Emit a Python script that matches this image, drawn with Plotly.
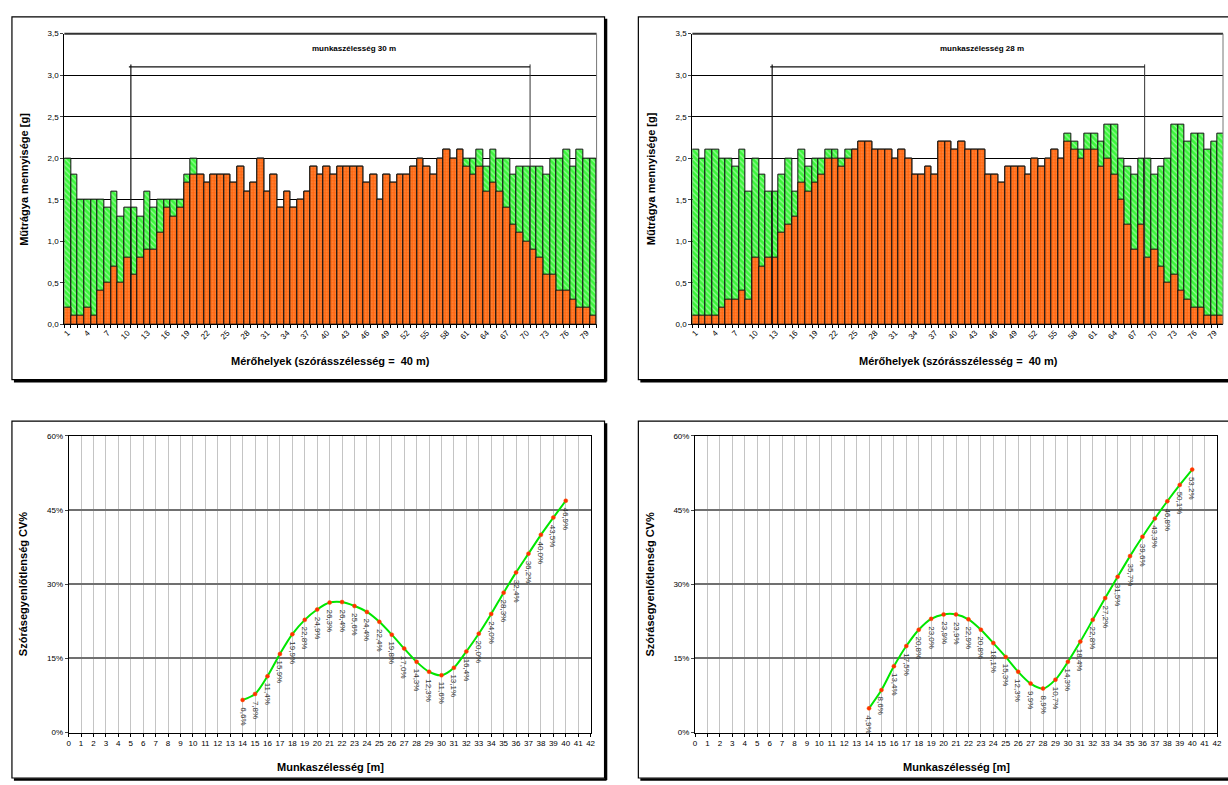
import plotly.graph_objects as go

# ---------------- data ----------------
positions = list(range(1, 81))
top_ticks = list(range(1, 80, 3))
top_tick_labels = [str(v) for v in top_ticks]

orange_30 = [0.2, 0.1, 0.1, 0.2, 0.1, 0.4, 0.5, 0.7, 0.5, 0.8,
             0.6, 0.8, 0.9, 0.9, 1.1, 1.4, 1.3, 1.4, 1.7, 1.8,
             1.8, 1.7, 1.8, 1.8, 1.8, 1.7, 1.9, 1.6, 1.7, 2.0,
             1.6, 1.8, 1.4, 1.6, 1.4, 1.5, 1.6, 1.9, 1.8, 1.9,
             1.8, 1.9, 1.9, 1.9, 1.9, 1.7, 1.8, 1.5, 1.8, 1.7,
             1.8, 1.8, 1.9, 2.0, 1.9, 1.8, 2.0, 2.1, 2.0, 2.1,
             1.9, 1.8, 1.9, 1.6, 1.7, 1.6, 1.4, 1.2, 1.1, 1.0,
             0.9, 0.8, 0.6, 0.6, 0.4, 0.4, 0.3, 0.2, 0.2, 0.1]
green_30 = [2.0, 1.8, 1.5, 1.5, 1.5, 1.5, 1.4, 1.6, 1.3, 1.4,
            1.4, 1.3, 1.6, 1.4, 1.5, 1.5, 1.5, 1.5, 1.8, 2.0,
            1.8, 1.7, 1.8, 1.8, 1.8, 1.7, 1.9, 1.6, 1.7, 2.0,
            1.6, 1.8, 1.4, 1.6, 1.4, 1.5, 1.6, 1.9, 1.8, 1.9,
            1.8, 1.9, 1.9, 1.9, 1.9, 1.7, 1.8, 1.5, 1.8, 1.7,
            1.8, 1.8, 1.9, 2.0, 1.9, 1.8, 2.0, 2.1, 2.0, 2.1,
            2.0, 2.0, 2.1, 1.9, 2.1, 2.0, 2.0, 1.8, 1.9, 1.9,
            1.9, 1.9, 1.8, 2.0, 2.0, 2.1, 1.9, 2.1, 2.0, 2.0]
orange_28 = [0.1, 0.1, 0.1, 0.1, 0.2, 0.3, 0.3, 0.4, 0.3, 0.8,
             0.7, 0.8, 0.8, 1.1, 1.2, 1.3, 1.7, 1.6, 1.7, 1.8,
             2.0, 2.0, 1.9, 2.0, 2.1, 2.2, 2.2, 2.1, 2.1, 2.1,
             2.0, 2.1, 2.0, 1.8, 1.8, 1.9, 1.8, 2.2, 2.2, 2.1,
             2.2, 2.1, 2.1, 2.1, 1.8, 1.8, 1.7, 1.9, 1.9, 1.9,
             1.8, 2.0, 1.9, 2.0, 2.1, 2.0, 2.2, 2.1, 2.0, 2.1,
             2.1, 1.9, 2.0, 1.8, 1.5, 1.2, 0.9, 1.2, 0.8, 0.9,
             0.7, 0.5, 0.6, 0.4, 0.3, 0.2, 0.2, 0.1, 0.1, 0.1]
green_28 = [2.1, 2.0, 2.1, 2.1, 2.0, 2.0, 1.9, 2.1, 1.6, 2.0,
            1.8, 1.6, 1.6, 1.8, 2.0, 1.6, 2.1, 1.9, 2.0, 2.0,
            2.1, 2.1, 2.0, 2.1, 2.1, 2.2, 2.2, 2.1, 2.1, 2.1,
            2.0, 2.1, 2.0, 1.8, 1.8, 1.9, 1.8, 2.2, 2.2, 2.1,
            2.2, 2.1, 2.1, 2.1, 1.8, 1.8, 1.7, 1.9, 1.9, 1.9,
            1.8, 2.0, 1.9, 2.0, 2.1, 2.0, 2.3, 2.2, 2.1, 2.3,
            2.3, 2.2, 2.4, 2.4, 2.0, 1.9, 1.8, 2.0, 2.0, 1.8,
            1.9, 2.0, 2.4, 2.4, 2.2, 2.3, 2.3, 2.1, 2.2, 2.3]

bracket_30 = [10.5, 70.5]
bracket_28 = [12.5, 68.5]
bracket_level = 3.1
title_30 = "munkaszélesség 30 m"
title_28 = "munkaszélesség 28 m"

widths = list(range(14, 41))
cv_30 = [6.6, 7.8, 11.4, 15.9, 19.9, 22.8, 24.9, 26.3, 26.4, 25.6, 24.4, 22.4, 19.8,
         17.0, 14.3, 12.3, 11.6, 13.1, 16.4, 20.0, 24.0, 28.3, 32.4, 36.2, 40.0, 43.5, 46.9]
cv_28 = [4.9, 8.6, 13.4, 17.5, 20.8, 23.0, 23.9, 23.9, 22.9, 20.8, 18.1, 15.3, 12.3,
         9.9, 8.9, 10.7, 14.3, 18.4, 22.8, 27.2, 31.5, 35.7, 39.6, 43.3, 46.8, 50.1, 53.2]

# ---------------- layout helpers ----------------
W, H = 1228, 785
FONT = "Liberation Sans, Arial, sans-serif"


def px_x(p):
    return p / W


def px_y(p):
    return 1 - p / H


fig = go.Figure()

# ---------------- top bar charts ----------------
green_marker = dict(color="#3cf53c", line=dict(color="#111", width=1),
                    pattern=dict(shape="\\", fgcolor="#f0fff0", size=4, solidity=0.3,
                                 fillmode="overlay"))
orange_marker = dict(color="#ff6610", line=dict(color="#111", width=1),
                     pattern=dict(shape=".", fgcolor="#ffb27a", size=3, solidity=0.3,
                                  fillmode="overlay"))

for g, o, xa, ya in [(green_30, orange_30, "x", "y"), (green_28, orange_28, "x2", "y2")]:
    fig.add_trace(go.Bar(x=positions, y=g, marker=green_marker, width=1,
                         xaxis=xa, yaxis=ya, showlegend=False, hoverinfo="skip"))
    fig.add_trace(go.Bar(x=positions, y=o, marker=orange_marker, width=1,
                         xaxis=xa, yaxis=ya, showlegend=False, hoverinfo="skip"))

# ---------------- bottom line charts ----------------
for cv, xa, ya in [(cv_30, "x3", "y3"), (cv_28, "x4", "y4")]:
    fig.add_trace(go.Scatter(x=widths, y=cv, mode="lines+markers",
                             line=dict(color="#00e600", width=2, shape="spline", smoothing=0.8),
                             marker=dict(color="#ff3000", size=4,
                                         line=dict(color="#ff5000", width=0.5)),
                             xaxis=xa, yaxis=ya, showlegend=False, hoverinfo="skip"))
    for xv, yv in zip(widths, cv):
        fig.add_annotation(x=xv, y=yv, xref=xa, yref=ya,
                           text=f"{yv:.1f}".replace(".", ",") + "%",
                           textangle=90, showarrow=False, xanchor="center", yanchor="top",
                           yshift=-5, font=dict(family=FONT, size=8, color="#333"))

tickfont = dict(family=FONT, size=8, color="#000")

top_x = dict(range=[0.5, 80.5], tickvals=top_ticks, ticktext=top_tick_labels,
             tickangle=-45, tickfont=tickfont, ticks="", showgrid=False, zeroline=False,
             showline=True, linecolor="#000", linewidth=1, mirror=False,
             minor=dict(ticks="outside", tick0=0.5, dtick=1, ticklen=3, tickcolor="#000",
                        showgrid=False))
top_y = dict(range=[0, 3.5], dtick=0.5, tickformat=".1f", tickfont=tickfont,
             ticks="outside", ticklen=3, showgrid=True, gridcolor="#000", gridwidth=1,
             zeroline=False, showline=True, linecolor="#000", linewidth=1)

bot_x = dict(range=[0, 42], dtick=1, tick0=0, tickfont=tickfont, ticks="outside",
             ticklen=3, tickcolor="#000", showgrid=True, gridcolor="#c4c4c4", gridwidth=1,
             zeroline=False, showline=True, linecolor="#000", linewidth=1, mirror=True)
bot_y = dict(range=[0, 60], dtick=15, ticksuffix="%", tickfont=tickfont, ticks="outside",
             ticklen=3, showgrid=True, gridcolor="#707070", gridwidth=1.5,
             zeroline=False, showline=True, linecolor="#000", linewidth=1, mirror=True)

top_y_dom = [px_y(324), px_y(30)]
bot_y_dom = [px_y(737), px_y(437)]

fig.update_layout(
    width=W, height=H, margin=dict(l=0, r=0, t=0, b=0),
    paper_bgcolor="white", plot_bgcolor="white",
    barmode="overlay", bargap=0, separators=", ",
    font=dict(family=FONT, size=8, color="#000"),
    xaxis=dict(top_x, domain=[px_x(62.7), px_x(598)], anchor="y"),
    yaxis=dict(top_y, domain=top_y_dom, anchor="x"),
    xaxis2=dict(top_x, domain=[px_x(694.3), 1.0], anchor="y2", range=[0.5, 80.28]),
    yaxis2=dict(top_y, domain=top_y_dom, anchor="x2"),
    xaxis3=dict(bot_x, domain=[px_x(67), px_x(592)], anchor="y3"),
    yaxis3=dict(bot_y, domain=bot_y_dom, anchor="x3"),
    xaxis4=dict(bot_x, domain=[px_x(697), px_x(1222)], anchor="y4"),
    yaxis4=dict(bot_y, domain=bot_y_dom, anchor="x4"),
)

shapes = []
# plot-area borders of the bar charts (top and right)
for xa, ya in [("x", "y"), ("x2", "y2")]:
    shapes.append(dict(type="line", xref=f"{xa} domain", yref=f"{ya} domain",
                       x0=0, x1=1, y0=1, y1=1, line=dict(color="#333", width=2)))
    shapes.append(dict(type="line", xref=f"{xa} domain", yref=f"{ya} domain",
                       x0=1, x1=1, y0=0, y1=1, line=dict(color="#777", width=1)))

# brackets (working width)
for br, xa, ya in [(bracket_30, "x", "y"), (bracket_28, "x2", "y2")]:
    left, right = br
    shapes.append(dict(type="line", xref=xa, yref=ya, x0=left, x1=left, y0=0,
                       y1=bracket_level + 0.03, line=dict(color="#111", width=1.2), layer="above"))
    shapes.append(dict(type="line", xref=xa, yref=ya, x0=right, x1=right, y0=0,
                       y1=bracket_level + 0.03, line=dict(color="#333", width=1), layer="above"))
    shapes.append(dict(type="line", xref=xa, yref=ya, x0=left - 0.3, x1=right, y0=bracket_level,
                       y1=bracket_level, line=dict(color="#111", width=1.2), layer="above"))

# outer chart frames with shadow
frames = [(10, 13, 606, 380), (640, 13, 1236, 380), (10, 422, 606, 783), (640, 422, 1236, 783)]
for x0, y0, x1, y1 in frames:
    shapes.append(dict(type="rect", xref="paper", yref="paper", x0=px_x(x0), x1=px_x(x1),
                       y0=px_y(y1), y1=px_y(y0), line=dict(color="#000", width=1.2)))
    shapes.append(dict(type="line", xref="paper", yref="paper", x0=px_x(x1 + 1.5),
                       x1=px_x(x1 + 1.5), y0=px_y(y1 + 2), y1=px_y(y0 + 2),
                       line=dict(color="#000", width=2.5)))
    shapes.append(dict(type="line", xref="paper", yref="paper", x0=px_x(x0 + 2),
                       x1=px_x(x1 + 2), y0=px_y(y1 + 1.5), y1=px_y(y1 + 1.5),
                       line=dict(color="#000", width=2.5)))
fig.update_layout(shapes=shapes)

bold = dict(family=FONT, size=11, color="#000")
titles = [
    ("Műtrágya mennyisége [g]", 22, 177, -90),
    ("Műtrágya mennyisége [g]", 653, 177, -90),
    ("Mérőhelyek (szórásszélesség = \u00a040 m)", 330, 361, 0),
    ("Mérőhelyek (szórásszélesség = \u00a040 m)", 962, 361, 0),
    ("Szórásegyenlőtlenség CV%", 21, 587, -90),
    ("Szórásegyenlőtlenség CV%", 652, 587, -90),
    ("Munkaszélesség [m]", 330, 772, 0),
    ("Munkaszélesség [m]", 960, 772, 0),
]
for text, x, y, ang in titles:
    fig.add_annotation(text=f"<b>{text}</b>", x=px_x(x), y=px_y(y), xref="paper", yref="paper",
                       showarrow=False, textangle=ang, xanchor="center", yanchor="middle",
                       font=bold)

for t, xa, ya in [(title_30, "x", "y"), (title_28, "x2", "y2")]:
    fig.add_annotation(text=f"<b>{t}</b>", x=44, y=3.32, xref=xa, yref=ya, showarrow=False,
                       xanchor="center", yanchor="middle",
                       font=dict(family=FONT, size=8, color="#000"))

fig.write_html("out.html")
